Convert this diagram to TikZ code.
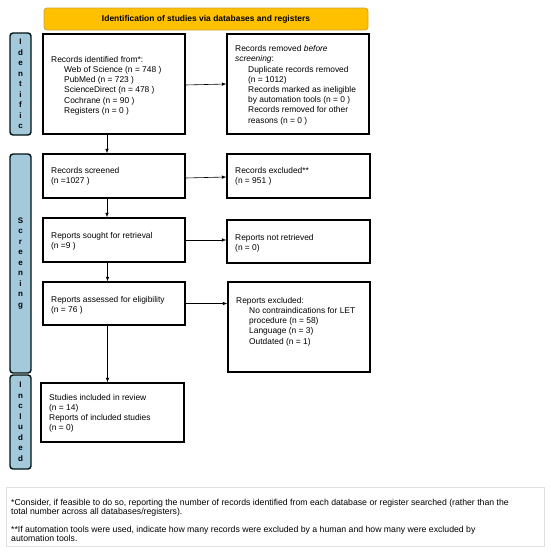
\documentclass[tikz,border=0pt]{standalone}
\usepackage{fontspec}
\setmainfont{Liberation Sans}
\usetikzlibrary{arrows.meta}
\definecolor{barblue}{HTML}{A3C9DA}
\definecolor{titleor}{HTML}{FFC000}
\definecolor{titlebd}{HTML}{C9A23A}
\tikzset{
  box/.style={draw=black,line width=1.3pt,fill=white,inner sep=0pt},
  sidebar/.style={draw=black!85!teal,line width=1.4pt,fill=barblue,rounded corners=3pt,inner sep=0pt},
  txt/.style={anchor=north west,inner sep=0pt,align=left,font=\fontsize{8.4}{10.2}\selectfont},
  vlab/.style={align=center,font=\bfseries\fontsize{8}{10.5}\selectfont,inner sep=0pt},
  arr/.style={-{Latex[length=4.5pt,width=3.5pt]},line width=0.6pt},
  foot/.style={anchor=north west,inner sep=0pt,align=left,font=\fontsize{8.7}{9.8}\selectfont}
}
\newcommand{\ii}{\hspace*{13pt}}
\begin{document}
\begin{tikzpicture}[x=1pt,y=-1pt]
\useasboundingbox (0,0) rectangle (550,554);
% title
\node[draw=titlebd,line width=0.8pt,fill=titleor,rounded corners=3pt,minimum width=324pt,minimum height=22pt,inner sep=0pt,font=\bfseries\fontsize{8.45}{10}\selectfont] (title) at (206,19) {Identification of studies via databases and registers};
% side bars
\node[sidebar,minimum width=21pt,minimum height=102pt] (sbI) at (20.5,84) {};
\node[vlab] (lI) at (sbI.center) {I\\d\\e\\n\\t\\i\\f\\i\\c};
\node[sidebar,minimum width=21pt,minimum height=219pt] (sbS) at (20.5,263.5) {};
\node[vlab] (lS) at (sbS.center) {S\\c\\r\\e\\e\\n\\i\\n\\g};
\node[sidebar,minimum width=21pt,minimum height=94pt] (sbC) at (20.5,422) {};
\node[vlab] (lC) at (sbC.center) {I\\n\\c\\l\\u\\d\\e\\d};
% boxes left
\node[box,minimum width=142pt,minimum height=100pt] (ident) at (114,84) {};
\node[box,minimum width=142pt,minimum height=44pt] (scr) at (114,176) {};
\node[box,minimum width=142pt,minimum height=44pt] (sought) at (114,240) {};
\node[box,minimum width=142pt,minimum height=43pt] (assess) at (114,303.5) {};
\node[box,minimum width=143pt,minimum height=59pt] (incl) at (112.5,412.5) {};
% boxes right
\node[box,minimum width=142pt,minimum height=100pt] (removed) at (298,84) {};
\node[box,minimum width=143pt,minimum height=44pt] (excl) at (298.5,176) {};
\node[box,minimum width=143pt,minimum height=43pt] (notret) at (298.5,241.5) {};
\node[box,minimum width=142pt,minimum height=90pt] (repexcl) at (299,327) {};
% texts
\node[txt] (t1) at (51,56) {Records identified from*:\\\ii Web of Science (n = 748 )\\\ii PubMed (n = 723 )\\\ii ScienceDirect (n = 478 )\\\ii Cochrane (n = 90 )\\\ii Registers (n = 0 )};
\node[txt] (t2) at (235,45.5) {Records removed \textit{before}\\\textit{screening}:\\\ii Duplicate records removed\\\ii (n = 1012)\\\ii Records marked as ineligible\\\ii by automation tools (n = 0 )\\\ii Records removed for other\\\ii reasons (n = 0 )};
\node[txt] (t3) at (51,167) {Records screened\\(n =1027 )};
\node[txt] (t4) at (235,167) {Records excluded**\\(n = 951 )};
\node[txt] (t5) at (51,232) {Reports sought for retrieval\\(n =9 )};
\node[txt] (t6) at (235,234) {Reports not retrieved\\(n = 0)};
\node[txt] (t7) at (51,296) {Reports assessed for eligibility\\(n = 76 )};
\node[txt] (t8) at (236,297) {Reports excluded:\\\ii No contraindications for LET\\\ii procedure (n = 58)\\\ii Language (n = 3)\\\ii Outdated (n = 1)};
\node[txt] (t9) at (49,394) {Studies included in review\\(n = 14)\\Reports of included studies\\(n = 0)};
% arrows
\draw[arr] ([xshift=-7pt]ident.south) -- ([xshift=-7pt]scr.north);
\draw[arr] ([xshift=-7pt]scr.south) -- ([xshift=-7pt]sought.north);
\draw[arr] ([xshift=-6.5pt]sought.south) -- ([xshift=-6.5pt]assess.north);
\draw[arr] ([xshift=-6.5pt]assess.south) -- ([xshift=-6.5pt]incl.north -| assess.south);
\draw[arr] ([yshift=-1pt]ident.east) -- (removed.west);
\draw[arr] ([yshift=-2pt]scr.east) -- ([yshift=-1pt]excl.west);
\draw[arr] (sought.east) -- (notret.west |- sought.east);
\draw[arr] (assess.east) -- (repexcl.west |- assess.east);
% footnote
\node[draw=black!12,line width=0.6pt,minimum width=538pt,minimum height=59pt,inner sep=0pt] (fbox) at (275,516.5) {};
\node[foot] (f1) at (11,498.5) {*Consider, if feasible to do so, reporting the number of records identified from each database or register searched (rather than the\\total number across all databases/registers).};
\node[foot] (f2) at (11,525.5) {**If automation tools were used, indicate how many records were excluded by a human and how many were excluded by\\automation tools.};
\end{tikzpicture}
\end{document}
